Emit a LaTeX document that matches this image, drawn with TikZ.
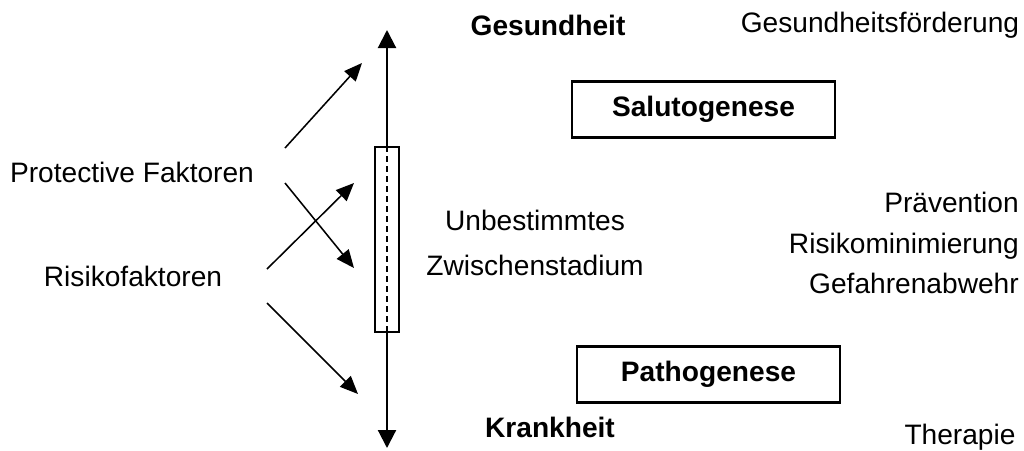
\documentclass[tikz,border=0pt]{standalone}
\usepackage{fontspec}
\setmainfont{Liberation Sans}
\usepackage{tikz}
\usetikzlibrary{positioning,arrows.meta}

\begin{document}
\begin{tikzpicture}[x=0.025cm, y=-0.025cm,
    every node/.style={font=\fontsize{20}{24}\selectfont, inner sep=0pt},
    genbox/.style={draw, line width=1.6pt, minimum width=6.575cm, minimum height=1.4cm},
    factor/.style={-{Triangle[length=0.45cm, width=0.38cm]}, line width=1.1pt},
    axis/.style={-{Triangle[length=0.45cm, width=0.45cm]}, line width=1.5pt}]
\useasboundingbox (0,0) rectangle (1024,450);

\node (gesund) at (548,25) {\textbf{Gesundheit}};
\node (foerder) at (880,25) {Gesundheitsförderung};
\node[genbox] (saluto) at (703.5,109.5) {\textbf{Salutogenese}};

\node (protect) at (132,172) {Protective Faktoren};
\node (risk) at (133,276) {Risikofaktoren};

\node[draw, line width=0.8pt, minimum width=0.6cm, minimum height=4.625cm] (zone) at (387,239.5) {};
\node[align=center, font=\fontsize{20}{32}\selectfont] (zwischen) at (535,243) {Unbestimmtes\\Zwischenstadium};
\node[anchor=east, align=right, font=\fontsize{20}{28.5}\selectfont] (praev) at (1019,243) {Prävention\\Risikominimierung\\Gefahrenabwehr};

\node[genbox] (patho) at (708.5,374.5) {\textbf{Pathogenese}};
\node (krank) at (550,427) {\textbf{Krankheit}};
\node (therapie) at (960,437) {Therapie};

\coordinate (top) at (387,30);
\coordinate (bottom) at (387,448);
\coordinate (pf1) at (285,148);
\coordinate (pf2) at (285,183);
\coordinate (rf1) at (267,269);
\coordinate (rf2) at (267,303);
\coordinate (up1) at (362,63);
\coordinate (down1) at (354,268);
\coordinate (up2) at (354,183);
\coordinate (down2) at (358,394);

\draw[axis] (zone.north) -- (top);
\draw[axis] (zone.south) -- (bottom);
\draw[line width=1.4pt, dash pattern=on 0.15cm off 0.1cm] (zone.north) -- (zone.south);

\draw[factor] (pf1) -- (up1);
\draw[factor] (pf2) -- (down1);
\draw[factor] (rf1) -- (up2);
\draw[factor] (rf2) -- (down2);

\end{tikzpicture}
\end{document}
